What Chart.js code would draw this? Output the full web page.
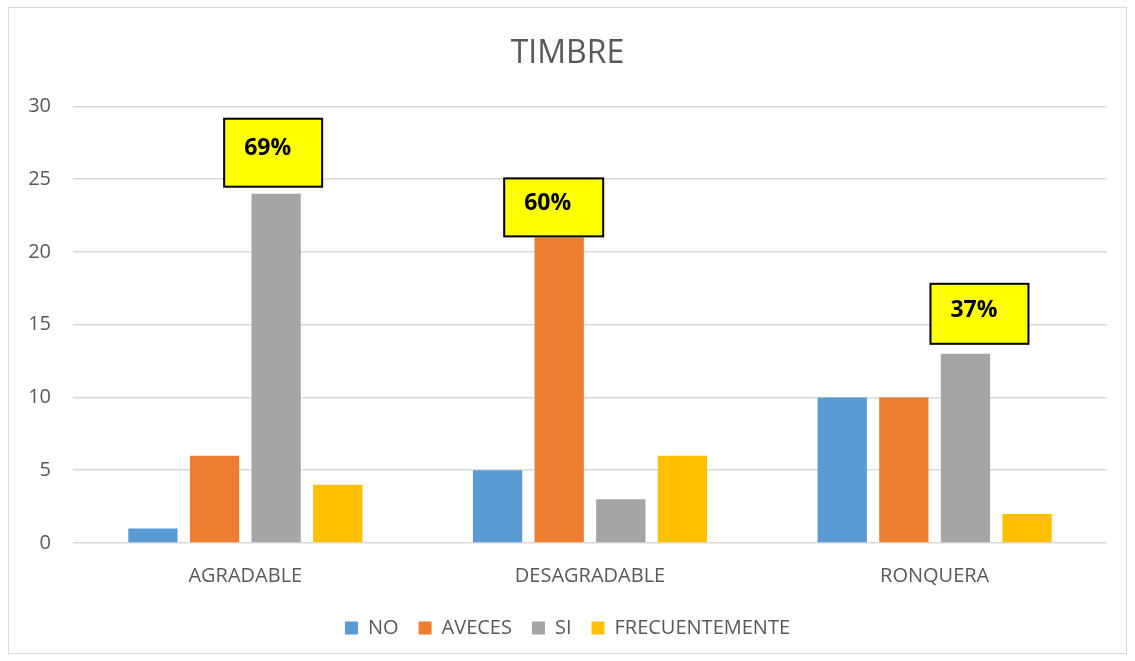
<!DOCTYPE html>
<html>
<head>
<meta charset="utf-8">
<script src="https://cdn.jsdelivr.net/npm/chart.js@4.4.1/dist/chart.umd.min.js"></script>
<style>
  html, body { margin: 0; padding: 0; background: #ffffff; }
  #wrap { position: relative; width: 1135px; height: 661px; }
  #frame { position: absolute; left: 8px; top: 7px; width: 1119px; height: 647px; border: 1px solid #d9d9d9; box-sizing: border-box; }
  canvas { position: absolute; left: 0; top: 0; }
</style>
</head>
<body>
<div id="wrap">
  <div id="frame"></div>
  <canvas id="c" width="1135" height="661"></canvas>
</div>
<script>
// ---- data ----
const categories = ['AGRADABLE', 'DESAGRADABLE', 'RONQUERA'];
const seriesNames = ['NO', 'AVECES', 'SI', 'FRECUENTEMENTE'];
const noValues = [1, 5, 10];
const avecesValues = [6, 21, 10];
const siValues = [24, 3, 13];
const frecuentementeValues = [4, 6, 2];
const yTicks = [0, 5, 10, 15, 20, 25, 30];
const calloutTexts = ['69%', '60%', '37%'];
const calloutCategory = [0, 1, 2];
const calloutSeries = [2, 1, 2];

// ---- styling ----
const FONT = "'Open Sans', 'Liberation Sans', sans-serif";
const TEXT = '#595959';
const colors = ['#5B9BD5', '#ED7D31', '#A5A5A5', '#FFC000'];
const seriesValues = [noValues, avecesValues, siValues, frecuentementeValues];
// callout box geometry relative to its bar (style only)
const calloutStyle = [
  { dx: -52, gap: 7, w: 98, h: 68 },
  { dx: -55, gap: 1, w: 99, h: 58 },
  { dx: -35, gap: 10, w: 98, h: 60 }
];

const calloutPlugin = {
  id: 'callouts',
  afterDatasetsDraw(chart) {
    const ctx = chart.ctx;
    ctx.save();
    calloutTexts.forEach((txt, k) => {
      const bar = chart.getDatasetMeta(calloutSeries[k]).data[calloutCategory[k]];
      const st = calloutStyle[k];
      const left = bar.x + st.dx;
      const bottom = bar.y - st.gap;
      const top = bottom - st.h;
      ctx.fillStyle = '#FFFF00';
      ctx.fillRect(left, top, st.w, st.h);
      ctx.lineWidth = 2;
      ctx.strokeStyle = '#000000';
      ctx.strokeRect(left, top, st.w, st.h);
      ctx.fillStyle = '#000000';
      ctx.font = "bold 23px " + FONT;
      ctx.textAlign = 'left';
      ctx.textBaseline = 'middle';
      ctx.fillText(txt, left + 20, top + st.h * 0.44);
    });
    ctx.restore();
  }
};

new Chart(document.getElementById('c'), {
  type: 'bar',
  data: {
    labels: categories,
    datasets: seriesNames.map((name, i) => ({
      label: name,
      data: seriesValues[i],
      backgroundColor: colors[i],
      borderWidth: 0,
      categoryPercentage: 0.715,
      barPercentage: 0.8
    }))
  },
  options: {
    responsive: false,
    animation: false,
    devicePixelRatio: 1,
    layout: { padding: { left: 28, right: 28, top: 0, bottom: 13 } },
    plugins: {
      title: {
        display: true,
        text: 'TIMBRE',
        color: TEXT,
        font: { family: FONT, size: 32, weight: 'normal' },
        padding: { top: 35, bottom: 33 }
      },
      legend: {
        display: true,
        position: 'bottom',
        labels: {
          color: TEXT,
          font: { family: FONT, size: 20 },
          boxWidth: 13,
          boxHeight: 13,
          padding: 20
        }
      },
      tooltip: { enabled: false }
    },
    scales: {
      x: {
        grid: { display: false, drawTicks: false },
        border: { display: false },
        ticks: { color: TEXT, font: { family: FONT, size: 20 }, padding: 21 },
        afterFit(scale) { scale.height = 55; }
      },
      y: {
        min: 0,
        max: 30,
        afterBuildTicks(scale) { scale.ticks = yTicks.map(v => ({ value: v })); },
        grid: { color: '#D9D9D9', lineWidth: 1.5, drawTicks: false },
        border: { display: false },
        ticks: { color: TEXT, font: { family: FONT, size: 20 }, padding: 22 },
        afterFit(scale) { scale.width = 45; }
      }
    }
  },
  plugins: [calloutPlugin]
});
</script>
</body>
</html>
